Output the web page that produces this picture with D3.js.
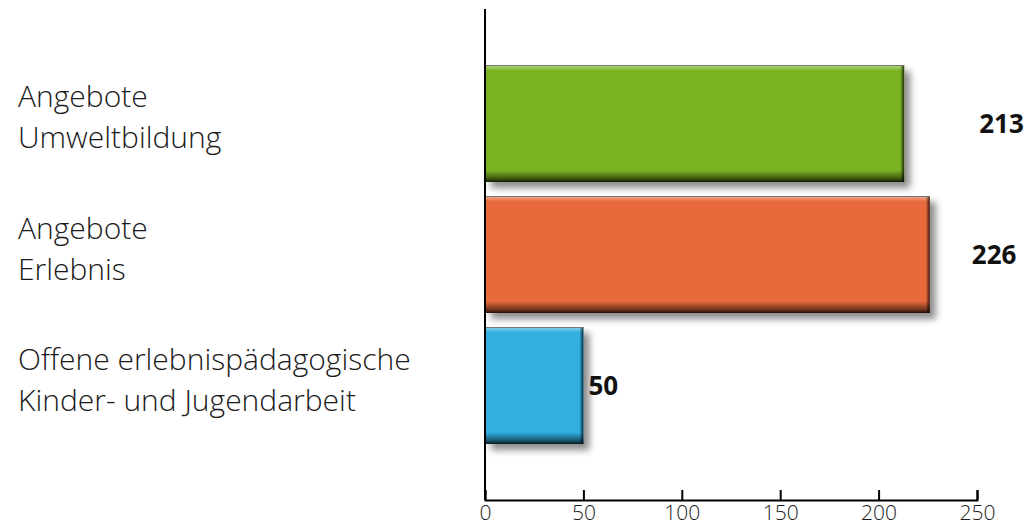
<!DOCTYPE html>
<html>
<head>
<meta charset="utf-8">
<script src="https://cdn.jsdelivr.net/npm/d3@7"></script>
<style>
  html, body { margin: 0; padding: 0; background: #fff; }
  svg { display: block; }
  .cat { font-family: "Open Sans", sans-serif; font-weight: 300; font-size: 30px; fill: #1a1a1a; }
  .val { font-family: "Open Sans", sans-serif; font-weight: 700; font-size: 26px; fill: #111; }
  .x-axis text { font-family: "Open Sans", sans-serif; font-weight: 300; font-size: 21px; fill: #1a1a1a; }
</style>
</head>
<body>
<svg id="svg"></svg>
<script>

const width = 1029;
const height = 528;

// data
const categories = ["umwelt", "erlebnis", "offen"];
const labelLines = [
  ["Angebote", "Umweltbildung"],
  ["Angebote", "Erlebnis"],
  ["Offene erlebnispädagogische", "Kinder- und Jugendarbeit"]
];
const values = [213, 226, 50];
const barColors = ["#7ab320", "#e8693a", "#33aee0"];
const xTicks = [0, 50, 100, 150, 200, 250];

// value label offsets from bar end (layout only)
const valueDx = [75, 42, 5];

const x = d3.scaleLinear().domain([0, 250]).range([485, 977]);
const y = d3.scaleBand().domain(categories).range([65, 444]).paddingInner(0.107).paddingOuter(0);
const axisY = 500;

const svg = d3.select("#svg")
      .attr("width", width)
      .attr("height", height);

const defs = svg.append("defs");

const shadow = defs.append("filter")
      .attr("id", "shadow")
      .attr("x", "-10%").attr("y", "-10%")
      .attr("width", "130%").attr("height", "140%");
shadow.append("feDropShadow")
      .attr("dx", 6).attr("dy", 6)
      .attr("stdDeviation", 3.5)
      .attr("flood-color", "#000")
      .attr("flood-opacity", 0.45);

const axisShadow = defs.append("filter")
      .attr("id", "axisShadow")
      .attr("x", "-50%").attr("y", "-50%")
      .attr("width", "200%").attr("height", "200%");
axisShadow.append("feGaussianBlur").attr("stdDeviation", 4);

// vertical shading: light top, dark bottom
const vGrad = defs.append("linearGradient")
      .attr("id", "vshade")
      .attr("x1", 0).attr("y1", 0).attr("x2", 0).attr("y2", 1);
vGrad.append("stop").attr("offset", "0%").attr("stop-color", "#fff").attr("stop-opacity", 0.45);
vGrad.append("stop").attr("offset", "5%").attr("stop-color", "#fff").attr("stop-opacity", 0);
vGrad.append("stop").attr("offset", "90%").attr("stop-color", "#000").attr("stop-opacity", 0);
vGrad.append("stop").attr("offset", "97%").attr("stop-color", "#000").attr("stop-opacity", 0.5);
vGrad.append("stop").attr("offset", "100%").attr("stop-color", "#000").attr("stop-opacity", 0.85);

const hGrad = defs.append("linearGradient")
      .attr("id", "hshade")
      .attr("x1", 0).attr("y1", 0).attr("x2", 1).attr("y2", 0);
hGrad.append("stop").attr("offset", "0%").attr("stop-color", "#000").attr("stop-opacity", 0);
hGrad.append("stop").attr("offset", "100%").attr("stop-color", "#000").attr("stop-opacity", 0.75);

// axis shadows
svg.append("line")
      .attr("x1", x(0) + 6).attr("x2", x(0) + 6)
      .attr("y1", 14).attr("y2", axisY)
      .attr("stroke", "#aaa").attr("stroke-width", 5)
      .attr("filter", "url(#axisShadow)");
svg.append("line")
      .attr("x1", x(0)).attr("x2", x(250))
      .attr("y1", axisY + 6).attr("y2", axisY + 6)
      .attr("stroke", "#bbb").attr("stroke-width", 4)
      .attr("filter", "url(#axisShadow)");

// bars
const bars = svg.selectAll("g.bar")
      .data(values)
      .enter().append("g")
      .attr("class", "bar");

bars.append("rect")
      .attr("x", x(0))
      .attr("y", (d, i) => y(categories[i]))
      .attr("width", d => x(d) - x(0))
      .attr("height", y.bandwidth())
      .style("fill", (d, i) => barColors[i])
      .attr("filter", "url(#shadow)");

bars.append("rect")
      .attr("x", x(0))
      .attr("y", (d, i) => y(categories[i]))
      .attr("width", d => x(d) - x(0))
      .attr("height", y.bandwidth())
      .style("fill", "url(#vshade)");

bars.append("rect")
      .attr("x", d => x(d) - 4)
      .attr("y", (d, i) => y(categories[i]))
      .attr("width", 4)
      .attr("height", y.bandwidth())
      .style("fill", "url(#hshade)");

// thin gray top edge
bars.append("line")
      .attr("x1", x(0)).attr("x2", d => x(d))
      .attr("y1", (d, i) => y(categories[i]) + 0.5)
      .attr("y2", (d, i) => y(categories[i]) + 0.5)
      .attr("stroke", "#777").attr("stroke-width", 1);

// value labels
bars.append("text")
      .attr("class", "val")
      .attr("x", (d, i) => x(d) + valueDx[i])
      .attr("y", (d, i) => y(categories[i]) + y.bandwidth() / 2)
      .attr("dy", "0.36em")
      .text(d => d);

// category labels
const cats = svg.selectAll("text.cat")
      .data(labelLines)
      .enter().append("text")
      .attr("class", "cat")
      .attr("x", 18)
      .attr("y", (d, i) => y(categories[i]) + y.bandwidth() / 2 - 16);
cats.selectAll("tspan")
      .data(d => d)
      .enter().append("tspan")
      .attr("x", 18)
      .attr("dy", (d, j) => j === 0 ? 0 : 41)
      .text(d => d);

// y axis line
svg.append("line")
      .attr("x1", x(0)).attr("x2", x(0))
      .attr("y1", 9).attr("y2", axisY)
      .attr("stroke", "#000").attr("stroke-width", 2);

// x axis
const xAxis = d3.axisBottom(x)
      .tickValues(xTicks)
      .tickSizeInner(-10)
      .tickSizeOuter(-10)
      .tickPadding(5);

const gx = svg.append("g")
      .attr("class", "x-axis")
      .attr("transform", `translate(0,${axisY})`)
      .call(xAxis);
gx.select(".domain").attr("stroke", "#000").attr("stroke-width", 2);
gx.selectAll(".tick line").attr("stroke", "#000").attr("stroke-width", 2);

</script>
</body>
</html>
